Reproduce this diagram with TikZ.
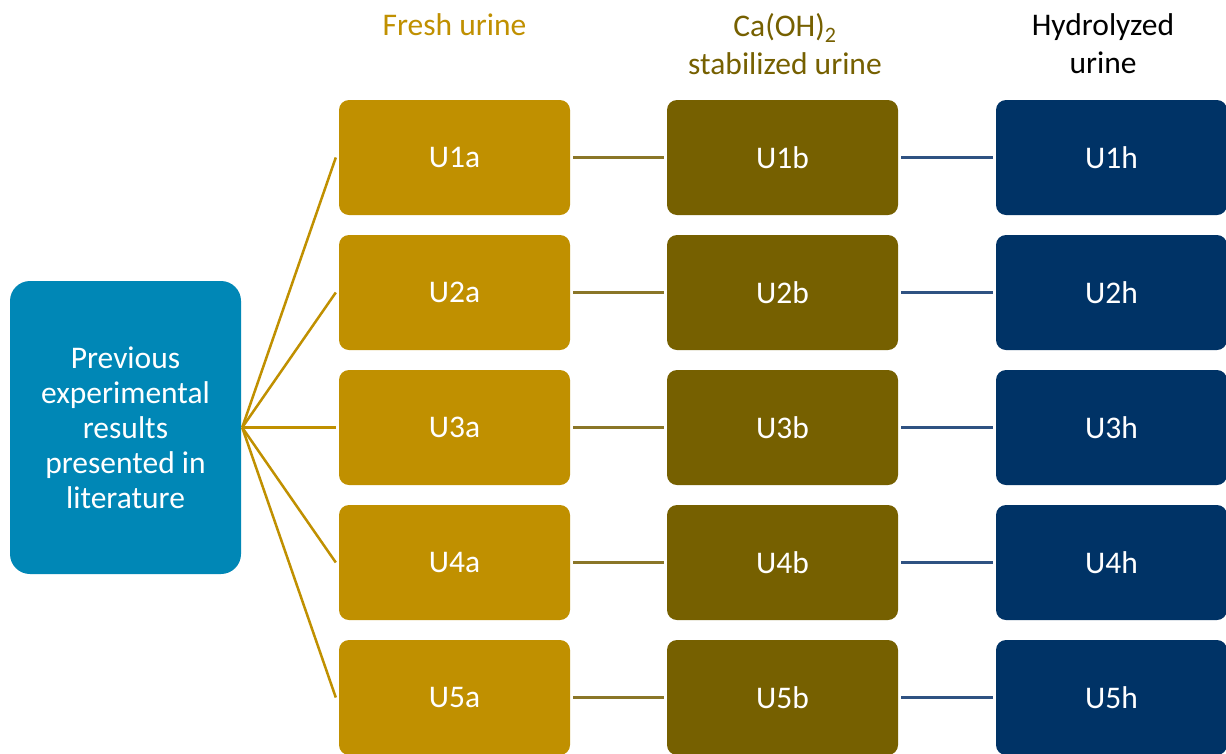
\documentclass[tikz,border=0pt]{standalone}
\usepackage{fontspec}
\setmainfont{Carlito}
\definecolor{gold}{HTML}{C09000}
\definecolor{olive}{HTML}{766000}
\definecolor{navy}{HTML}{003366}
\definecolor{teal}{HTML}{0087B6}
\definecolor{oliveline}{HTML}{8A7628}
\definecolor{navyline}{HTML}{2F5282}
\begin{document}
\begin{tikzpicture}[x=1pt,y=-1pt,
  cell/.style={rectangle, rounded corners=10pt, minimum width=231pt, minimum height=115pt,
    inner sep=0pt, text=white, font=\fontsize{31.5}{35}\selectfont},
  freshbox/.style={cell, fill=gold},
  stabbox/.style={cell, fill=olive},
  hydrobox/.style={cell, fill=navy},
  srcbox/.style={rectangle, rounded corners=20pt, minimum width=231pt, minimum height=293pt,
    inner sep=0pt, fill=teal, text=white, align=center, font=\fontsize{31.5}{35}\selectfont},
  head/.style={align=center, font=\fontsize{31.5}{38}\selectfont},
  fan/.style={draw=gold, line width=2.5pt},
  linkab/.style={draw=oliveline, line width=2.5pt},
  linkbh/.style={draw=navyline, line width=2.5pt}]
\clip (0,0) rectangle (1226,753);
\fill[white] (0,0) rectangle (1226,753);

% column headings
\node[head, text=gold] (hA) at (454.5,25) {Fresh urine};
\node[head, text=olive] (hB) at (785,44) {Ca(OH)\textsubscript{2}\\stabilized urine};
\node[head, text=black] (hH) at (1103,44) {Hydrolyzed\\urine};

% source box
\node[srcbox] (src) at (125.5,427.5) {Previous\\experimental\\results\\presented in\\literature};

% rows of samples
\foreach \i in {1,...,5} {
  \pgfmathsetmacro{\yy}{157.5+135*(\i-1)}
  \node[freshbox] (a\i) at (454.5,\yy) {U\i a};
  \node[stabbox]  (b\i) at (782.5,\yy) {U\i b};
  \node[hydrobox] (h\i) at (1111.5,\yy) {U\i h};
  \draw[fan] ([xshift=1pt]src.east) -- ([xshift=-3pt]a\i.west);
  \draw[linkab] ([xshift=3pt]a\i.east) -- ([xshift=-3pt]b\i.west);
  \draw[linkbh] ([xshift=3pt]b\i.east) -- ([xshift=-3pt]h\i.west);
}
\end{tikzpicture}
\end{document}
